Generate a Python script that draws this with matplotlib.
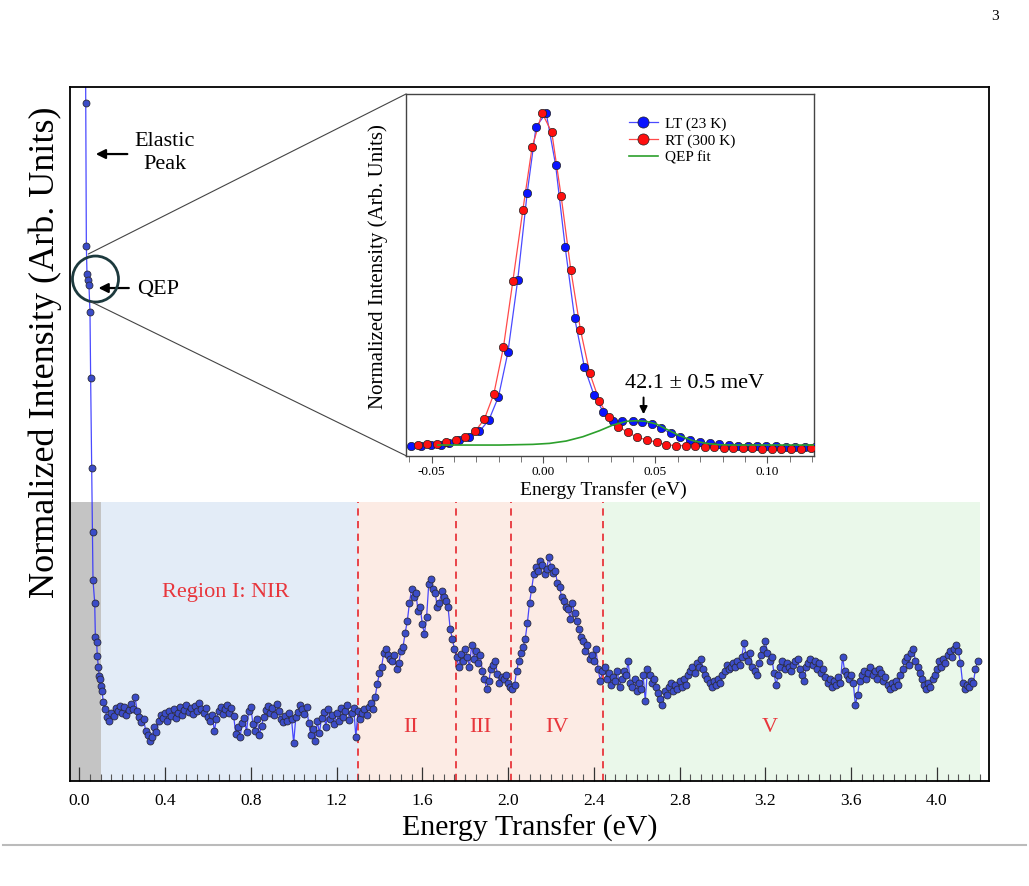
import numpy as np
import matplotlib
matplotlib.use("Agg")
import matplotlib.pyplot as plt
from matplotlib.patches import Ellipse, ConnectionPatch
from matplotlib.lines import Line2D

plt.rcParams['font.family'] = ['Liberation Serif', 'DejaVu Serif']
plt.rcParams['axes.unicode_minus'] = False

# ---- main spectrum (intensity in arb. units) ----
# elastic line + tail, read point by point
elastic_e = [0.026, 0.030, 0.033, 0.036, 0.041, 0.045, 0.050, 0.053, 0.058, 0.062,
             0.064, 0.072, 0.075, 0.081, 0.084, 0.089, 0.093, 0.098, 0.101, 0.106, 0.112]
elastic_i = [900, 676, 533, 505, 499, 494, 467, 401, 311, 247,
             199, 176, 142, 137, 123, 112, 103, 100, 93, 88, 77]

step = 0.01
# Region I (NIR), starts at 0.12 eV
region1_start = 0.12
region1_i = [70, 62, 58, 66, 63, 71, 68, 73,
             66, 72, 64, 69, 75, 70, 82, 68, 62, 57,
             60, 48, 44, 38, 42, 52, 47, 58, 64, 61,
             66, 58, 68, 63, 70, 61, 66, 72, 64, 69,
             74, 67, 71, 65, 73, 68, 76, 70, 66, 71,
             62, 58, 64, 48, 60, 68, 72, 65, 70, 74,
             66, 71, 63, 45, 52, 42, 56, 61, 47, 68,
             72, 55, 48, 60, 44, 53, 62, 69, 73, 66,
             71, 64, 75, 68, 60, 57, 63, 58, 66, 60,
             36, 62, 67, 74, 70, 65, 72, 56, 44, 50,
             38, 58, 46, 61, 67, 52, 70, 60, 64, 55,
             66, 58, 71, 62, 68, 74, 59, 66, 71, 42]
# Region II, starts at 1.30 eV
region2_start = 1.30
region2_i = [68, 60, 66, 70, 64, 72, 76, 70, 82, 95,
             106, 112, 126, 130, 124, 120, 118, 124, 110, 116,
             128, 132, 146, 158, 176, 190, 182, 186, 168, 172,
             155, 145, 162, 195, 200, 190, 186, 172, 176, 188,
             182, 178, 172, 150, 140, 130]
# Region III, starts at 1.76 eV
region3_start = 1.76
region3_i = [122, 112, 125, 118, 130, 122, 112, 134, 120, 128,
             116, 124, 108, 100, 90, 98, 110, 114, 118, 105,
             96, 102, 100, 104, 96, 92]
# Region IV, starts at 2.02 eV
region4_start = 2.02
region4_i = [90, 94, 108, 118, 126, 132, 140, 156, 176, 190,
             205, 212, 208, 218, 214, 205, 210, 222, 212, 206,
             208, 196, 192, 182, 178, 172, 170, 160, 176, 166,
             158, 150, 142, 138, 128, 134, 120, 124, 118, 130,
             110, 98, 108]
# Region V, starts at 2.45 eV
region5_start = 2.45
region5_i = [112, 100, 106, 94, 102, 98, 108, 92, 100, 108,
             104, 118, 96, 92, 100, 88, 96, 90, 104, 78,
             110, 104, 96, 100, 92, 86, 80, 74, 88, 84,
             92, 96, 88, 94, 90, 98, 92, 100, 94, 104,
             108, 112, 106, 116, 112, 120, 110, 104, 100, 96,
             92, 98, 94, 100, 96, 104, 108, 114, 110, 112,
             116, 112, 118, 114, 122, 136, 124, 118, 126, 112,
             108, 104, 116, 124, 130, 138, 126, 118, 122, 106,
             94, 104, 112, 118, 110, 116, 112, 108, 114, 118,
             120, 110, 104, 98, 112, 116, 120, 114, 118, 110,
             116, 106, 110, 102, 96, 100, 92, 98, 94, 102,
             96, 122, 108, 104, 100, 104, 96, 74, 84, 98,
             104, 108, 100, 106, 112, 104, 108, 100, 110, 106,
             98, 102, 94, 90, 96, 92, 98, 94, 104, 110,
             118, 122, 114, 126, 130, 118, 112, 106, 100, 94,
             90, 96, 92, 100, 104, 110, 118, 112, 120, 116,
             124, 128, 122, 130, 134, 128, 116, 96, 90, 94,
             92, 98, 96, 110, 118]

region_starts = [region1_start, region2_start, region3_start, region4_start, region5_start]
region_values = [region1_i, region2_i, region3_i, region4_i, region5_i]

energy = list(elastic_e)
intensity = list(elastic_i)
for start, vals in zip(region_starts, region_values):
    energy += [round(start + step * k, 3) for k in range(len(vals))]
    intensity += vals

# region boundaries (eV) and labels
shade_edges = [0.1, 1.3, 2.44, 4.2]
dashed_at = [1.3, 1.755, 2.013, 2.444]
region_labels = ["II", "III", "IV", "V"]
region_label_x = [1.546, 1.869, 2.228, 3.222]

# ---- inset: elastic line at LT and RT ----
lt_e = [-0.0592, -0.0547, -0.0502, -0.0457, -0.0420, -0.0376, -0.0331, -0.0286, -0.0244, -0.0201,
        -0.0159, -0.0115, -0.0073, -0.0033, 0.0012, 0.0054, 0.0097, 0.0139, 0.0183, 0.0225,
        0.0268, 0.0310, 0.0352, 0.0399, 0.0441, 0.0484, 0.0526, 0.0571, 0.0612, 0.0656,
        0.0697, 0.0742, 0.0784, 0.0827, 0.0869, 0.0913, 0.0955, 0.0995, 0.1040, 0.1085,
        0.1125, 0.1167, 0.1211]
lt_i = [0.000, 0.002, 0.004, 0.004, 0.010, 0.019, 0.029, 0.045, 0.079, 0.149,
        0.282, 0.500, 0.759, 0.959, 1.000, 0.845, 0.597, 0.385, 0.237, 0.155,
        0.102, 0.077, 0.075, 0.075, 0.074, 0.067, 0.054, 0.039, 0.027, 0.019,
        0.014, 0.009, 0.006, 0.004, 0.002, 0.002, 0.000, 0.000, 0.000, -0.001,
        -0.001, -0.003, -0.003]
rt_e = [-0.0562, -0.0520, -0.0477, -0.0435, -0.0393, -0.0350, -0.0305, -0.0264, -0.0222, -0.0179,
        -0.0137, -0.0092, -0.0051, -0.0006, 0.0037, 0.0079, 0.0122, 0.0165, 0.0207, 0.0250,
        0.0292, 0.0335, 0.0377, 0.0419, 0.0462, 0.0507, 0.0548, 0.0593, 0.0635, 0.0678,
        0.0720, 0.0761, 0.0805, 0.0846, 0.0891, 0.0933, 0.0976, 0.1021, 0.1062, 0.1107,
        0.1149, 0.1194]
rt_i = [0.004, 0.006, 0.007, 0.012, 0.020, 0.027, 0.045, 0.082, 0.157, 0.297,
        0.495, 0.710, 0.897, 1.000, 0.942, 0.750, 0.530, 0.350, 0.219, 0.135,
        0.087, 0.059, 0.042, 0.027, 0.020, 0.012, 0.005, 0.002, 0.002, 0.000,
        -0.001, -0.003, -0.005, -0.006, -0.006, -0.006, -0.008, -0.008, -0.008, -0.008,
        -0.008, -0.006]
fit_e = [-0.0472, -0.0197, -0.0048, 0.0027, 0.0101, 0.0176, 0.0250, 0.0310, 0.0370, 0.0414,
         0.0459, 0.0504, 0.0548, 0.0608, 0.0668, 0.0727, 0.0787, 0.0846, 0.1211]
fit_i = [0.004, 0.004, 0.006, 0.009, 0.016, 0.029, 0.047, 0.064, 0.075, 0.077,
         0.075, 0.067, 0.052, 0.032, 0.017, 0.009, 0.005, 0.004, 0.004]

red = '#e8363c'

fig = plt.figure(figsize=(10.29, 8.87), dpi=100)
ax = fig.add_axes([0.0680, 0.1184, 0.8928, 0.7820])
ax.set_xlim(-0.0434, 4.2416)
ax.set_ylim(-2, 691.7)

# shaded regions
top = 277
ax.fill_between([-0.0434, shade_edges[0]], -2, top, color='#c4c4c4', lw=0, zorder=0)
ax.fill_between([shade_edges[0], shade_edges[1]], -2, top, color='#e3ecf7', lw=0, zorder=0)
ax.fill_between([shade_edges[1], shade_edges[2]], -2, top, color='#fcebe4', lw=0, zorder=0)
ax.fill_between([shade_edges[2], shade_edges[3]], -2, top, color='#eaf8ea', lw=0, zorder=0)
for xd in dashed_at:
    ax.plot([xd, xd], [-2, top], color=red, lw=1.3, ls=(0, (4, 3)), zorder=1)

ax.plot(energy, intensity, '-', color='#2a2aff', lw=0.9, alpha=0.85, zorder=2)
ax.plot(energy, intensity, 'o', ms=5, mfc='#3b4cc8', mec='#2b2b3a', mew=0.6, zorder=3)

ax.text(0.683, 187, "Region I: NIR", color=red, fontsize=16, ha='center', va='center')
for lab, xl in zip(region_labels, region_label_x):
    ax.text(xl, 52, lab, color=red, fontsize=16, ha='center', va='center')

# elastic peak / QEP annotations
ax.annotate('', xy=(0.064, 625), xytext=(0.237, 625),
            arrowprops=dict(arrowstyle='-|>', color='black', lw=1.6, mutation_scale=14))
ax.text(0.40, 627, "Elastic\nPeak", fontsize=16, ha='center', va='center', linespacing=1.35)
ax.annotate('', xy=(0.0765, 491), xytext=(0.244, 491),
            arrowprops=dict(arrowstyle='-|>', color='black', lw=1.6, mutation_scale=14))
ax.text(0.269, 491, "QEP", fontsize=16, ha='left', va='center')
ax.add_patch(Ellipse((0.0756, 500), 0.2146, 46, fill=False, ec='#1d3a3e', lw=2, zorder=4))

ax.set_yticks([])
ax.set_xticks(np.arange(0, 4.01, 0.4))
ax.set_xticklabels([f"{t:.1f}" for t in np.arange(0, 4.01, 0.4)])
ax.set_xticks(np.arange(0, 4.24, 0.05), minor=True)
ax.tick_params(axis='x', which='major', direction='in', length=10, width=0.9,
               colors='#333333', labelcolor='black', labelsize=12.5, pad=8)
ax.tick_params(axis='x', which='minor', direction='in', length=5, width=0.8, colors='#555555')
for s in ax.spines.values():
    s.set_linewidth(1.3)
ax.set_xlabel("Energy Transfer (eV)", fontsize=21.5, labelpad=4)
fig.text(45 / 1029, 1 - 352 / 887, "Normalized Intensity (Arb. Units)", rotation=90,
         fontsize=26, ha='center', va='center')

# ---- inset ----
axi = fig.add_axes([0.3946, 0.4851, 0.3968, 0.4078])
axi.set_xlim(-0.0614, 0.1210)
axi.set_ylim(-0.028, 1.057)
axi.plot(lt_e, lt_i, '-', color='#4a4aff', lw=0.9, zorder=2)
axi.plot(rt_e, rt_i, '-', color='#ff4a4a', lw=0.9, zorder=2)
axi.plot(lt_e, lt_i, 'o', ms=6, mfc='#0a14ff', mec='#222222', mew=0.5, zorder=3)
axi.plot(rt_e, rt_i, 'o', ms=6, mfc='#ff1010', mec='#222222', mew=0.5, zorder=4)
axi.plot(fit_e, fit_i, '-', color='#2ca02c', lw=1.2, zorder=5)

# legend handles as marker + line
handles = [Line2D([], [], color='#4a4aff', lw=0.9, marker='o', ms=8, mfc='#0a14ff', mec='#222222', mew=0.5),
           Line2D([], [], color='#ff4a4a', lw=0.9, marker='o', ms=8, mfc='#ff1010', mec='#222222', mew=0.5),
           Line2D([], [], color='#2ca02c', lw=1.2)]
axi.legend(handles, ['LT (23 K)', 'RT (300 K)', 'QEP fit'], loc='upper left',
           bbox_to_anchor=(0.53, 0.955), frameon=False, fontsize=11,
           handlelength=1.9, labelspacing=0.2, handletextpad=0.5, borderaxespad=0)

axi.annotate('', xy=(0.0447, 0.088), xytext=(0.0447, 0.155),
             arrowprops=dict(arrowstyle='-|>', color='black', lw=1.4, mutation_scale=11))
axi.text(0.0675, 0.193, "42.1 \u00b1 0.5 meV", fontsize=16, ha='center', va='center')

axi.set_yticks([])
axi.set_xticks([-0.05, 0.0, 0.05, 0.10])
axi.set_xticklabels(['-0.05', '0.00', '0.05', '0.10'])
axi.set_xticks(np.arange(-0.06, 0.121, 0.01), minor=True)
axi.tick_params(axis='x', which='major', direction='out', length=5, width=0.8,
                colors='#555555', labelcolor='black', labelsize=9.5, pad=2)
axi.tick_params(axis='x', which='minor', direction='out', length=4, width=0.7, colors='#777777')
for s in axi.spines.values():
    s.set_linewidth(1.0)
    s.set_color('#444444')
axi.set_xlabel("Energy Transfer (eV)", fontsize=14)
axi.xaxis.set_label_coords(0.483, -0.068, transform=axi.transAxes)
axi.xaxis.label.set_va('top')
axi.set_ylabel("Normalized Intensity (Arb. Units)", fontsize=15)
axi.yaxis.set_label_coords(-0.069, 0.525, transform=axi.transAxes)
axi.yaxis.label.set_va('center')

# zoom lines from the circle to the inset corners
for xy_main, xy_in in [((0.042, 525), (0, 1)), ((0.0575, 477), (0, 0))]:
    cp = ConnectionPatch(xyA=xy_main, coordsA=ax.transData, xyB=xy_in, coordsB=axi.transAxes,
                         color='#444444', lw=0.8, zorder=1)
    fig.add_artist(cp)

# page decorations
fig.text(995 / 1029, 1 - 17 / 887, "3", fontsize=11, ha='center', va='center')
fig.add_artist(Line2D([3 / 1029, 1026 / 1029], [1 - 846 / 887, 1 - 846 / 887],
                      color='#bbbbbb', lw=1.5))

fig.savefig("out.png", dpi=100)
